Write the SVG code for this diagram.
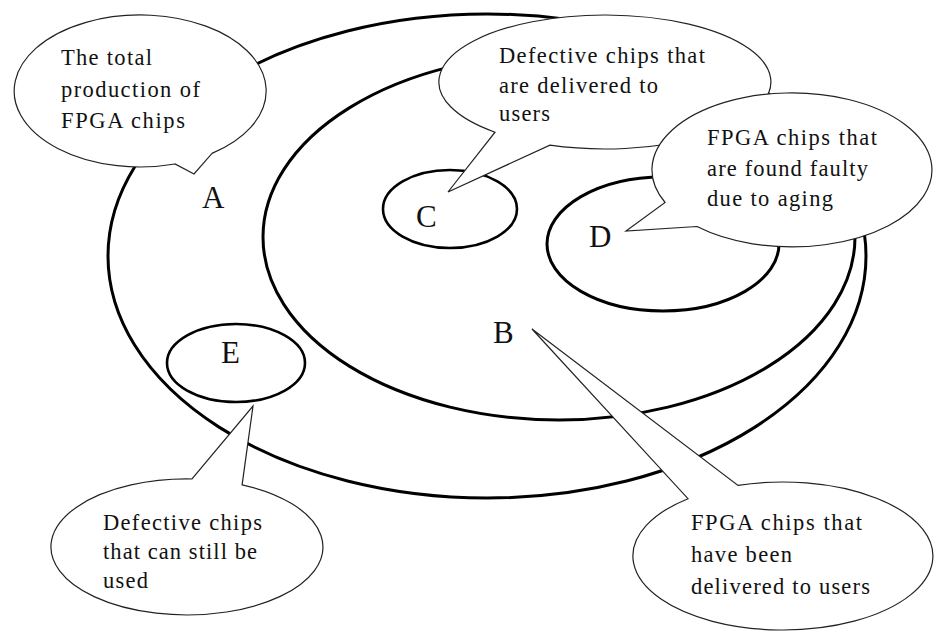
<svg xmlns="http://www.w3.org/2000/svg" width="934" height="633" viewBox="0 0 934 633">
  <style>
    .set { fill: none; stroke: #000; stroke-width: 3; }
    .small { fill: none; stroke: #000; stroke-width: 2.6; }
    .bubble { fill: #fff; stroke: #222; stroke-width: 1.2; stroke-linejoin: miter; }
    .lbl { font-family: "Liberation Serif", "Times New Roman", serif; font-size: 31px; fill: #111; }
    .note { font-family: "Liberation Serif", "Times New Roman", serif; font-size: 22.5px; fill: #111; }
  </style>
  <rect width="934" height="633" fill="#fff"/>

  <!-- nested sets -->
  <g id="set-A">
    <ellipse class="set" cx="487" cy="256" rx="379" ry="242"/>
    <text class="lbl" x="202" y="208">A</text>
  </g>
  <g id="set-B">
    <ellipse class="set" cx="559" cy="237" rx="296" ry="183"/>
    <text class="lbl" x="493" y="343">B</text>
  </g>
  <g id="set-C">
    <ellipse class="small" cx="450" cy="209" rx="67" ry="39"/>
    <text class="lbl" x="416" y="227">C</text>
  </g>
  <g id="set-D">
    <ellipse class="set" cx="663" cy="244" rx="116" ry="67"/>
    <text class="lbl" x="589" y="247">D</text>
  </g>
  <g id="set-E">
    <ellipse class="small" cx="236" cy="363" rx="69" ry="39"/>
    <text class="lbl" x="221" y="363">E</text>
  </g>

  <!-- speech-bubble callouts -->
  <g id="callouts">
    <g id="callout-A">
      <path class="bubble" d="M 212,153.4 A 126 76 0 1 0 175,164 L 194,174 Z"/>
      <text class="note" x="61" y="65" textLength="91" lengthAdjust="spacing">The total</text>
      <text class="note" x="61" y="97" textLength="139" lengthAdjust="spacing">production of</text>
      <text class="note" x="61" y="128" textLength="124" lengthAdjust="spacing">FPGA chips</text>
    </g>
    <g id="callout-E">
      <path class="bubble" d="M 242.1,484.8 A 136 68 0 1 1 192,479 L 253,406 Z"/>
      <text class="note" x="103" y="530" textLength="159" lengthAdjust="spacing">Defective chips</text>
      <text class="note" x="103" y="559" textLength="154" lengthAdjust="spacing">that can still be</text>
      <text class="note" x="103" y="588" textLength="45" lengthAdjust="spacing">used</text>
    </g>
    <g id="callout-B">
      <path class="bubble" d="M 738,485.4 A 150 74 0 1 1 688,498.7 L 532,329 Z"/>
      <text class="note" x="691" y="530" textLength="171" lengthAdjust="spacing">FPGA chips that</text>
      <text class="note" x="691" y="562" textLength="101" lengthAdjust="spacing">have been</text>
      <text class="note" x="691" y="594" textLength="179" lengthAdjust="spacing">delivered to users</text>
    </g>
    <g id="callout-C">
      <path class="bubble" d="M 549.9,145.2 A 166 67 0 1 0 495,132.2 L 448,192 Z"/>
      <text class="note" x="499" y="63" textLength="206" lengthAdjust="spacing">Defective chips that</text>
      <text class="note" x="499" y="93" textLength="159" lengthAdjust="spacing">are delivered to</text>
      <text class="note" x="499" y="121" textLength="51" lengthAdjust="spacing">users</text>
    </g>
    <g id="callout-D">
      <path class="bubble" d="M 697,226.5 A 140 77 0 1 0 665.1,202.5 L 626,231 Z"/>
      <text class="note" x="707" y="145" textLength="170" lengthAdjust="spacing">FPGA chips that</text>
      <text class="note" x="707" y="176" textLength="161" lengthAdjust="spacing">are found faulty</text>
      <text class="note" x="707" y="206" textLength="126" lengthAdjust="spacing">due to aging</text>
    </g>
  </g>
</svg>
